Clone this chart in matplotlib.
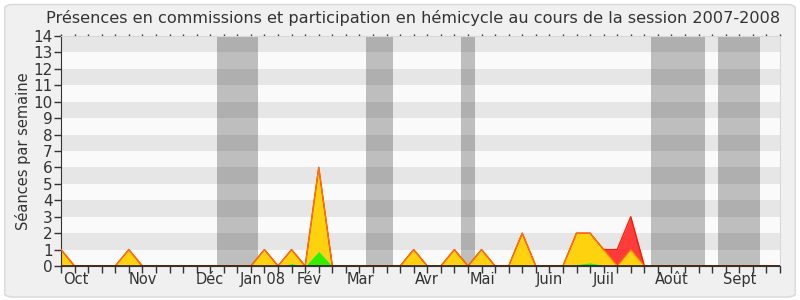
import matplotlib
matplotlib.use("Agg")
import matplotlib.pyplot as plt
from matplotlib.patches import FancyBboxPatch
import numpy as np

# semaines de la session (index de semaine 0..53)
semaines = list(range(54))

# séries empilées (valeur de chaque couche, par semaine)
interventions = [0] * 54   # vert
hemicycle_top = [0] * 54   # jaune (sommet, vert compris)
commission = [0] * 54      # rouge (au-dessus du jaune)

for i, v in {5: 0.05, 15: 0.05, 17: 0.15, 19: 0.9, 29: 0.1, 34: 0.1,
             38: 0.1, 39: 0.2, 40: 0.05, 42: 0.05}.items():
    interventions[i] = v
for i, v in {0: 1, 5: 1, 15: 1, 17: 1, 19: 6, 26: 1, 29: 1, 31: 1, 34: 2,
             38: 2, 39: 2, 40: 1, 42: 1}.items():
    hemicycle_top[i] = v
for i, v in {41: 1, 42: 2}.items():
    commission[i] = v

# vacances parlementaires (début, fin en semaines)
vacances = [(11.5, 14.5), (22.5, 24.5), (29.5, 30.5), (43.5, 47.5), (48.4, 51.5)]

mois_labels = ["Oct", "Nov", "Déc", "Jan 08", "Fév", "Mar", "Avr", "Mai",
               "Juin", "Juil", "Août", "Sept"]
mois_pos = [1.1, 6, 11, 14.9, 18.3, 22.1, 27, 31.1, 36, 40, 45, 50]

x = np.array(semaines)
vert = np.array(interventions)
jaune = np.array(hemicycle_top)
rouge = jaune + np.array(commission)

fig = plt.figure(figsize=(8, 3), dpi=100, facecolor="white")
fig.patches.append(FancyBboxPatch((0.006, 0.01), 0.988, 0.975,
                                  boxstyle="round,pad=0,rounding_size=0.012",
                                  transform=fig.transFigure, facecolor="#f0f0f0",
                                  edgecolor="#dcdcdc", linewidth=1.2, zorder=-10))
ax = fig.add_axes([0.07625, 0.1133, 0.89875, 0.7667])
ax.set_facecolor("#fafafa")

# bandes horizontales alternées
for k in range(1, 14, 2):
    ax.axhspan(k, k + 1, color="#e6e6e6", lw=0, zorder=0)
for a, b in vacances:
    ax.axvspan(a, b, color="black", alpha=0.24, lw=0, zorder=1)

ax.fill_between(x, jaune, rouge, color="#ff3b3b", lw=0, zorder=2)
ax.fill_between(x, vert, jaune, color="#ffd20f", lw=0, zorder=2)
ax.fill_between(x, 0, vert, color="#33ee00", lw=0, zorder=2)
ax.plot(x, rouge, color="#ff1a00", lw=1, zorder=3)
ax.plot(x, jaune, color="#ff7a00", lw=0.8, zorder=3)
ax.axhline(0, color="#3a1a0a", lw=1.2, zorder=4)

ax.set_xlim(0, 53)
ax.set_ylim(0, 14)
ax.set_yticks(range(15))
ax.xaxis.remove_overlapping_locs = False
ax.set_xticks(range(54))
ax.set_xticklabels([])
ax.set_xticks(mois_pos, minor=True)
ax.set_xticklabels(mois_labels, minor=True)
ax.tick_params(axis="x", which="major", length=5, width=1, color="#333333",
               direction="out", top=True)
ax.tick_params(axis="x", which="minor", length=0, pad=4, labelsize=10.5, labelcolor="#333333")
ax.tick_params(axis="y", length=5, width=1, color="#333333", labelsize=11,
               labelcolor="#333333", pad=1)
for s in ["top", "right"]:
    ax.spines[s].set_color("#d8d8d8")
ax.spines["left"].set_color("#333333")
ax.spines["bottom"].set_color("#333333")
# petits points en haut à chaque semaine
for t in ax.xaxis.get_major_ticks():
    t.tick2line.set_markersize(1.5)
    t.tick2line.set_color("#666666")

ax.set_ylabel("Séances par semaine", fontsize=10.5, color="#333333", labelpad=2)
fig.text(0.516, 0.94, "Présences en commissions et participation en hémicycle au cours de la session 2007-2008",
         ha="center", va="center", fontsize=11.6, color="#333333")

fig.savefig("out.png", dpi=100, facecolor=fig.get_facecolor())
